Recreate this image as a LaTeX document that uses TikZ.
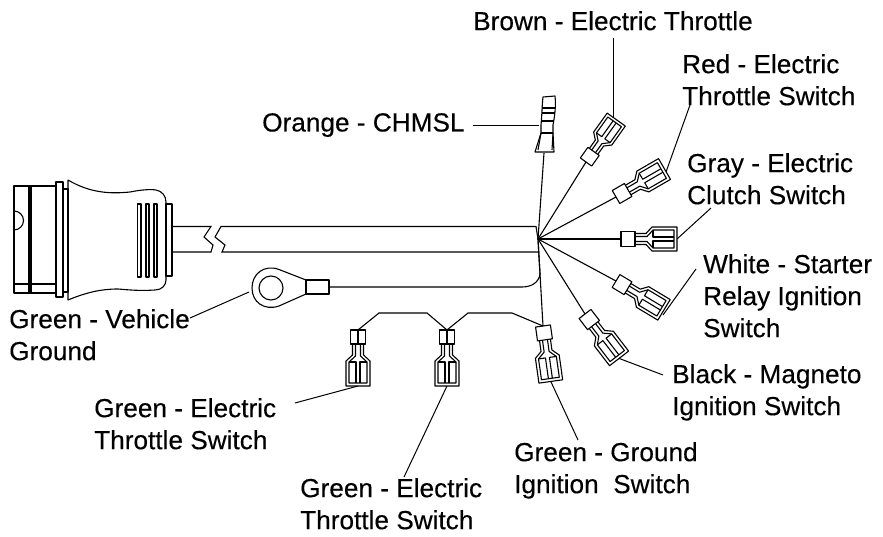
\documentclass[tikz,border=0pt]{standalone}
\usepackage{fontspec}
\setmainfont{Liberation Sans}[FakeBold=0.25]
\usepackage{tikz}

\tikzset{
  part/.style={line width=1.1pt, line join=round},
  wire/.style={line width=1.1pt},
  leader/.style={line width=1pt},
  callout/.style={anchor=north west, align=left, inner sep=0pt, font=\fontsize{26.2}{32}\selectfont},
  fork/.pic={
    % crimp
    \draw[part] (0,-7.5) rectangle (14,7.5);
    % blade
    \draw[part] (14,-5.5) -- (25,-5.5) -- (31,-12) -- (56,-12) -- (56,12) -- (31,12) -- (25,5.5) -- (14,5.5);
    \draw[part] (14,-2.5) -- (26,-2.5) -- (32,-9) -- (53,-9) -- (53,9) -- (32,9) -- (26,2.5) -- (14,2.5);
    \draw[part] (32,-9) -- (32,-2) -- (53,-2) (32,9) -- (32,2) -- (53,2);
    \coordinate (-in) at (0,0);
    \coordinate (-crimp) at (14,0);
    \coordinate (-out) at (56,0);
  },
}

\begin{document}
\begin{tikzpicture}[x=1pt,y=-1pt]
          \useasboundingbox (0,0) rectangle (883,537);
          \coordinate (hub) at (538,239);

          % Plug
          \draw[part] (14,186) rectangle (56,293);
          \draw[part] (29,186) -- (29,293) (31,186) -- (31,293);
          \draw[part] (14,284) -- (56,284);
          \draw[part] (14,230) arc[start angle=90, end angle=-90, radius=9.5] -- cycle;
          \draw[part] (56,182) rectangle (63,297);
          \draw[part] (63,189) rectangle (68,292);
          \draw[part] (68,180) .. controls (90,193) and (110,194) .. (130,192) .. controls (140,190) and (150,189) .. (156,190)
            .. controls (162,191) and (166,196) .. (166,202) -- (166,280) .. controls (166,285) and (162,290) .. (155,290)
            .. controls (140,291) and (130,290) .. (118,289) .. controls (100,289) and (85,293) .. (68,300) -- cycle;
          \draw[part] (166,204) rectangle (172,276);
          \draw[part] (137.5,204) rectangle (141,277);
          \draw[part] (146,204) rectangle (149,277);
          \draw[part] (154,204) rectangle (157,277);

          % Cable
          \draw[wire] (172,226.500) -- (211,226.500) -- (204,237) -- (213,245) -- (211,252) -- (172,252);
          \draw[wire] (hub) -- (536,226.500) -- (221,226.500) -- (215,237) -- (225,245) -- (222,252) -- (538,252);

          % Ring terminal
          \draw[part] (306,280) -- (279,269.500) .. controls (264,264) and (252,274) .. (252,288)
            .. controls (252,302) and (264,311) .. (279,306) -- (306,294);
          \draw[part] (271,288) circle (12);
          \draw[part] (306,280) rectangle (329,294);
          \coordinate (ring) at (329,287);
          \draw[wire] (ring) -- (522,287) .. controls (532,287) and (539,282) .. (540,274) -- (hub);

          % Bullet
          \draw[part] (543,97) -- (555,96) .. controls (556,105) and (555,115) .. (553,125) -- (553,133) -- (554,152)
            -- (535,152) -- (541,133) -- (541,125) .. controls (542,115) and (542,105) .. (543,97) -- cycle;
          \draw[part] (542,108) -- (555,108) (542,113) -- (555,113) (541,121) -- (554,121) (541,133) -- (553,133);
          \draw[part] (541,133) -- (538,150) (553,133) -- (552,150);
          \coordinate (bullet) at (544,153);
          \coordinate (bulletside) at (539,126);
          \draw[wire] (hub) -- (bullet);

          % Terminals
          \pic[rotate=54.5, scale=0.93] (brown) at (586,162) {fork};
          \pic[rotate=30] (red) at (616,197) {fork};
          \pic (gray) at (621,239) {fork};
          \pic[rotate=-31] (white) at (616,281) {fork};
          \pic[rotate=-52.5] (black) at (585,314) {fork};
          \pic[rotate=-82] (ground) at (543,326) {fork};
          \pic[rotate=-90] (midswitch) at (447,330) {fork};
          \pic[rotate=-90] (leftswitch) at (358,330) {fork};
          \draw[part] (midswitch-in) -- (midswitch-crimp);
          \draw[part] (leftswitch-in) -- (leftswitch-crimp);

          % Wires
          \draw[wire] (hub) -- (brown-in);
          \draw[wire] (hub) -- (red-in);
          \draw[wire] (hub) -- (gray-in);
          \draw[wire] (hub) -- (white-in);
          \draw[wire] (hub) -- (black-in);
          \draw[wire] (hub) -- (ground-in);
          \draw[wire] (leftswitch-in) -- (379,313) -- (427,313) -- (midswitch-in) -- (468,313) -- (512,313) -- (ground-in);

          % Labels
          \node[callout] (brownlbl) at (473,11) {Brown - Electric Throttle};
          \node[callout] (redlbl) at (682,54) {Red - Electric\\Throttle Switch};
          \node[callout] (graylbl) at (687,153) {Gray - Electric\\Clutch Switch};
          \node[callout] (whitelbl) at (703,254) {White - Starter\\Relay Ignition\\Switch};
          \node[callout] (blacklbl) at (672,364) {Black - Magneto\\Ignition Switch};
          \node[callout] (groundlbl) at (514,442) {Green - Ground\\Ignition~ Switch};
          \node[callout] (midlbl) at (300,478) {Green - Electric\\Throttle Switch};
          \node[callout] (leftlbl) at (94,398) {Green - Electric\\Throttle Switch};
          \node[callout] (vehiclelbl) at (9,309) {Green - Vehicle\\Ground};
          \node[callout] (orangelbl) at (262,113) {Orange - CHMSL};

          % Leaders
          \coordinate (brownend) at (613,38);
          \coordinate (browntip) at (613,117);
          \coordinate (redend) at (690,105);
          \coordinate (redtip) at (666,172);
          \coordinate (grayend) at (711,208);
          \coordinate (whiteend) at (696,269);
          \coordinate (whitetip) at (663,315);
          \coordinate (blackend) at (663,375);
          \coordinate (groundend) at (578,440);
          \coordinate (midend) at (404,477);
          \coordinate (leftend) at (295,403);
          \coordinate (vehicleend) at (190,318);
          \coordinate (vehiclering) at (249,292);
          \coordinate (orangeend) at (473,126);
          \draw[leader] (brownend) -- (browntip);
          \draw[leader] (redend) -- (redtip);
          \draw[leader] (grayend) -- (gray-out);
          \draw[leader] (whiteend) -- (whitetip);
          \draw[leader] (blackend) -- (black-out);
          \draw[leader] (groundend) -- (ground-out);
          \draw[leader] (midend) -- (midswitch-out);
          \draw[leader] (leftend) -- (leftswitch-out);
          \draw[leader] (vehicleend) -- (vehiclering);
          \draw[leader] (orangeend) -- (bulletside);
        \end{tikzpicture}
\end{document}
